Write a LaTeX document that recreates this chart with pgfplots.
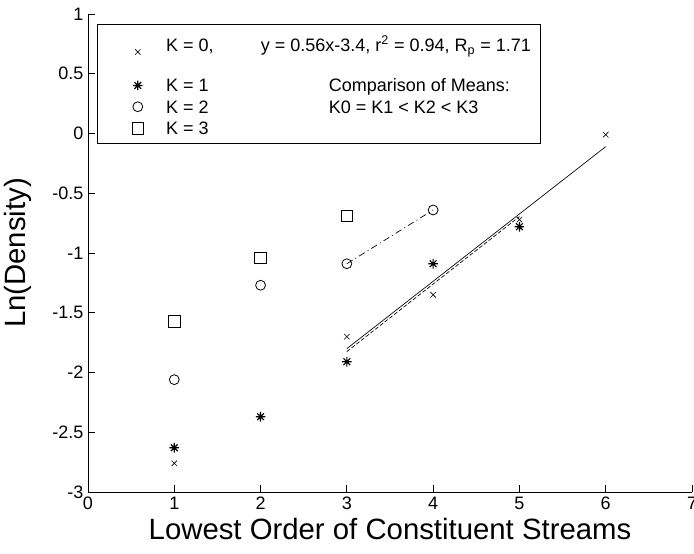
\documentclass[border=0pt]{standalone}
\usepackage{fontspec}
\setmainfont{Liberation Sans}
\usepackage{pgfplots}
\pgfplotsset{compat=1.18}

% MATLAB-style '*' marker: a plus and a cross on top of each other
\pgfdeclareplotmark{mstar}{%
  \pgfpathmoveto{\pgfqpoint{-\pgfplotmarksize}{0pt}}%
  \pgfpathlineto{\pgfqpoint{\pgfplotmarksize}{0pt}}%
  \pgfpathmoveto{\pgfqpoint{0pt}{-\pgfplotmarksize}}%
  \pgfpathlineto{\pgfqpoint{0pt}{\pgfplotmarksize}}%
  \pgfpathmoveto{\pgfqpoint{-0.7\pgfplotmarksize}{-0.7\pgfplotmarksize}}%
  \pgfpathlineto{\pgfqpoint{0.7\pgfplotmarksize}{0.7\pgfplotmarksize}}%
  \pgfpathmoveto{\pgfqpoint{-0.7\pgfplotmarksize}{0.7\pgfplotmarksize}}%
  \pgfpathlineto{\pgfqpoint{0.7\pgfplotmarksize}{-0.7\pgfplotmarksize}}%
  \pgfusepathqstroke}

\newcommand{\rowA}{\rule[-17.15pt]{0pt}{34.25pt}}
\newcommand{\rowB}{\rule[-3.15pt]{0pt}{16pt}}

\begin{document}
\begin{tikzpicture}
\begin{axis}[
  name=ax,
  scale only axis,
  width=453pt, height=358.5pt,
  xmin=0, xmax=7, ymin=-3, ymax=1,
  xtick={0,1,...,7},
  ytick={-3,-2.5,...,1},
  axis lines=left,
  axis line style={-, line width=0.6pt},
  tick align=inside,
  major tick length=5pt,
  tick style={line width=0.6pt, black},
  /pgf/number format/assume math mode=true,
  tick label style={font=\fontsize{13.5}{16}\selectfont},
  label style={font=\fontsize{22}{26}\selectfont},
  xlabel={Lowest Order of Constituent Streams},
  ylabel={Ln(Density)},
  ylabel style={at={(ticklabel cs:0.5,9pt)}},
  legend image code/.code={%
    \path (-30pt,0pt) (21pt,0pt);
    \draw[#1] plot coordinates {(0pt,0pt)};},
  legend cell align=left,
  legend style={
    at={(axis description cs:0.0149,0.979)}, anchor=north west,
    draw=black, line width=0.6pt, fill=white,
    inner xsep=0pt, inner ysep=3.5pt,
    row sep=0pt, column sep=0pt,
    font=\fontsize{13.5}{16}\selectfont,
    nodes={inner sep=0pt, text depth=, text height=},
  },
]
% K = 0
\addplot[only marks, mark=x, mark size=2.9pt, mark options={line width=0.45pt}]
  coordinates {(1,-2.76) (3,-1.70) (4,-1.35) (5,-0.72) (6,-0.01)};
\addlegendentry{\rowA\makebox[281pt][l]{\makebox[71pt][l]{K = 0,}y = 0.56x-3.4, r\textsuperscript{2} = 0.94, R\textsubscript{p} = 1.71}}
% K = 1
\addplot[only marks, mark=mstar, mark size=3.6pt, mark options={line width=0.9pt}]
  coordinates {(1,-2.63) (2,-2.37) (3,-1.91) (4,-1.09) (5,-0.78)};
\addlegendentry{\rowB\makebox[122pt][l]{K = 1}Comparison of Means:}
% K = 2
\addplot[only marks, mark=o, mark size=3.7pt, mark options={line width=0.6pt}]
  coordinates {(1,-2.06) (2,-1.27) (3,-1.09) (4,-0.64)};
\addlegendentry{\rowB\makebox[122pt][l]{K = 2}K0 = K1 < K2 < K3}
% K = 3
\addplot[only marks, mark=square, mark size=4.4pt, mark options={line width=0.6pt}]
  coordinates {(1,-1.57) (2,-1.04) (3,-0.69)};
\addlegendentry{\rowB K = 3}
% regression lines
\addplot[forget plot, no marks, line width=0.5pt] coordinates {(3,-1.80) (6,-0.11)};
\addplot[forget plot, no marks, line width=0.5pt, dash pattern=on 3pt off 1.5pt]
  coordinates {(3,-1.825) (5,-0.695)};
\addplot[forget plot, no marks, line width=0.5pt, dash pattern=on 5pt off 2.5pt on 0.8pt off 2.5pt]
  coordinates {(3,-1.09) (4,-0.64)};
\end{axis}
\pgfresetboundingbox
\path[use as bounding box] ([xshift=-66pt,yshift=-46.5pt]ax.south west)
  rectangle ([xshift=1.5pt,yshift=10.5pt]ax.north east);
\end{tikzpicture}
\end{document}
